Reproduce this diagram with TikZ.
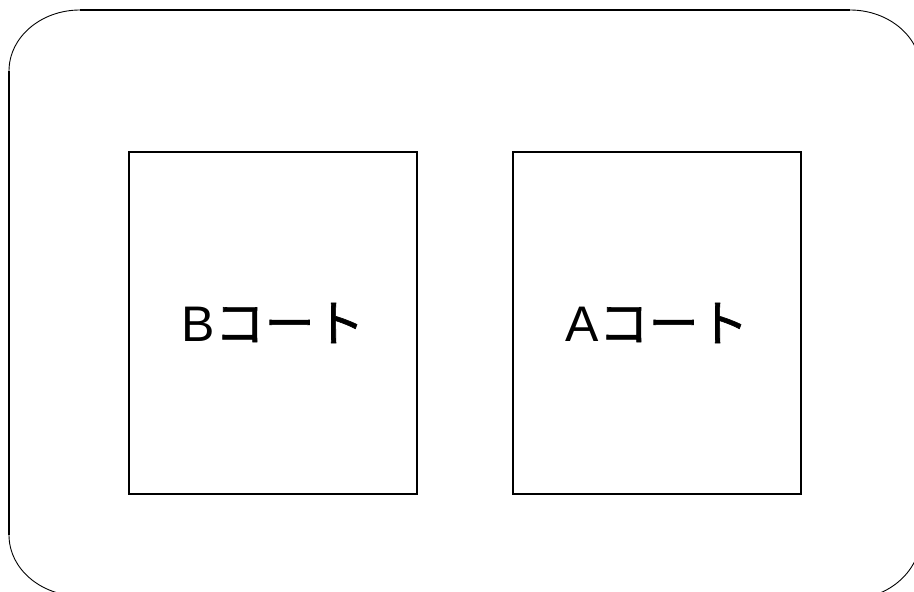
\documentclass[tikz,border=0pt]{standalone}
\usepackage{fontspec}
\setmainfont{Liberation Sans}
\newfontfamily\cjk[FakeBold=1.2]{Noto Sans CJK JP}
\tikzset{
  court/.style={draw, line width=1.5pt, minimum width=288pt, minimum height=342pt, inner sep=0pt, font=\fontsize{50}{60}\selectfont},
  edgeline/.style={line width=1.6pt},
  cornerarc/.style={line width=0.9pt}
}
\begin{document}
\begin{tikzpicture}[x=1pt,y=1pt]
\useasboundingbox (0,0) rectangle (914,592);
\clip (0,0) rectangle (914,592);
% outer frame
\draw[edgeline] (80,582) -- (850,582);
\draw[edgeline] (9,521) -- (9,57);
\draw[cornerarc] (80,582) arc[start angle=90, end angle=180, x radius=71, y radius=61];
\draw[cornerarc] (9,57) arc[start angle=180, end angle=270, x radius=71, y radius=61];
\draw[cornerarc] (850,582) arc[start angle=90, end angle=0, x radius=71, y radius=61];
\draw[cornerarc] (921,57) arc[start angle=0, end angle=-90, x radius=71, y radius=64];
% courts
\node[court] (b) at (273,269) {B{\cjk コート}};
\node[court] (a) at (657,269) {A{\cjk コート}};
\end{tikzpicture}
\end{document}
